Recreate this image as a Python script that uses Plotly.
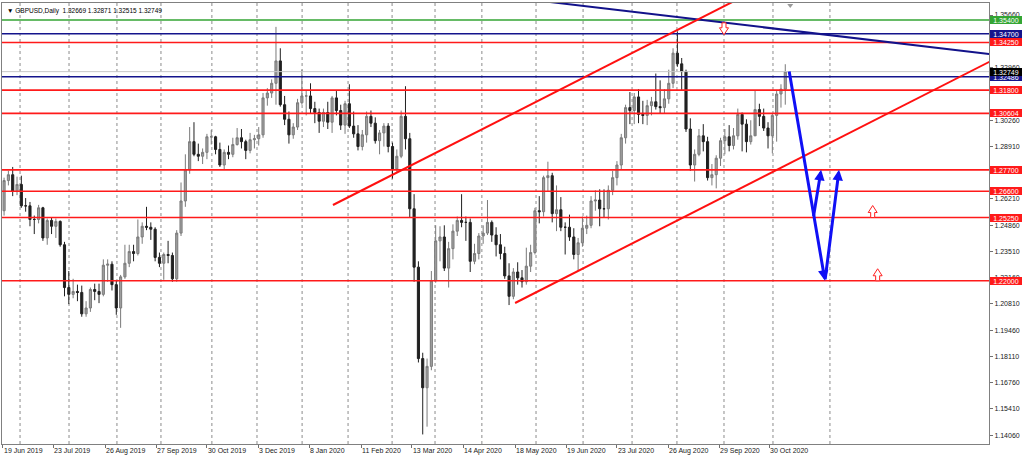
import plotly.graph_objects as go

# ---- candle data: 2-trading-day candles, GBPUSD daily (19 Jun 2019 .. 11 Nov 2020) ----
O = [1.2560, 1.2715, 1.2745, 1.2660, 1.2695, 1.2585, 1.2585, 1.2515, 1.2515, 1.2575,
     1.2420, 1.2510, 1.2480, 1.2505, 1.2385, 1.2165, 1.2130, 1.2145, 1.2140, 1.2030,
     1.2060, 1.2155, 1.2145, 1.2130, 1.2280, 1.2285, 1.2180, 1.2060, 1.2220, 1.2290,
     1.2350, 1.2340, 1.2425, 1.2480, 1.2475, 1.2465, 1.2320, 1.2290, 1.2335, 1.2330,
     1.2210, 1.2445, 1.2610, 1.2770, 1.2915, 1.2850, 1.2840, 1.2860, 1.2940, 1.2940,
     1.2875, 1.2795, 1.2860, 1.2850, 1.2900, 1.2935, 1.2915, 1.2870, 1.2925, 1.2930,
     1.2950, 1.3140, 1.3165, 1.3215, 1.3330, 1.3105, 1.3030, 1.2950, 1.2990, 1.3115,
     1.3150, 1.3150, 1.3085, 1.3065, 1.3020, 1.3065, 1.3015, 1.3140, 1.3075, 1.3000,
     1.3110, 1.2995, 1.2955, 1.2890, 1.2950, 1.3045, 1.3010, 1.2920, 1.2960, 1.2995,
     1.2890, 1.2775, 1.2840, 1.3045, 1.2930, 1.2570, 1.2270, 1.1800, 1.1650, 1.1760,
     1.2200, 1.2405, 1.2425, 1.2265, 1.2365, 1.2455, 1.2510, 1.2500, 1.2500, 1.2300,
     1.2340, 1.2430, 1.2445, 1.2500, 1.2435, 1.2385, 1.2340, 1.2225, 1.2120, 1.2245,
     1.2215, 1.2195, 1.2275, 1.2345, 1.2560, 1.2555, 1.2730, 1.2740, 1.2545, 1.2565,
     1.2475, 1.2475, 1.2425, 1.2335, 1.2395, 1.2470, 1.2485, 1.2610, 1.2615, 1.2570,
     1.2570, 1.2665, 1.2730, 1.2795, 1.2935, 1.3090, 1.3075, 1.3145, 1.3055, 1.3050,
     1.3100, 1.3120, 1.3095, 1.3090, 1.3135, 1.3215, 1.3370, 1.3315, 1.3275, 1.2980,
     1.2795, 1.2850, 1.2945, 1.2915, 1.2730, 1.2745, 1.2830, 1.2920, 1.2940, 1.2895,
     1.2945, 1.3055, 1.3005, 1.2915, 1.2945, 1.3080, 1.3045, 1.2985, 1.2945, 1.3050,
     1.3160, 1.3185]
H = [1.2730, 1.2765, 1.2785, 1.2735, 1.2740, 1.2625, 1.2605, 1.2535, 1.2590, 1.2580,
     1.2520, 1.2525, 1.2520, 1.2510, 1.2400, 1.2250, 1.2210, 1.2180, 1.2175, 1.2095,
     1.2165, 1.2185, 1.2185, 1.2310, 1.2310, 1.2300, 1.2200, 1.2230, 1.2385, 1.2385,
     1.2385, 1.2515, 1.2500, 1.2580, 1.2500, 1.2475, 1.2345, 1.2345, 1.2405, 1.2345,
     1.2460, 1.2705, 1.2850, 1.2990, 1.3015, 1.2905, 1.2880, 1.2955, 1.2975, 1.2945,
     1.2910, 1.2875, 1.2895, 1.2935, 1.2985, 1.2980, 1.2925, 1.2960, 1.2950, 1.2990,
     1.3165, 1.3190, 1.3235, 1.3505, 1.3395, 1.3150, 1.3070, 1.3010, 1.3135, 1.3285,
     1.3175, 1.3215, 1.3120, 1.3085, 1.3085, 1.3120, 1.3150, 1.3175, 1.3105, 1.3125,
     1.3210, 1.3070, 1.3000, 1.2975, 1.3070, 1.3075, 1.3040, 1.2975, 1.3010, 1.3010,
     1.2910, 1.2875, 1.3075, 1.3200, 1.2960, 1.2645, 1.2300, 1.1830, 1.1800, 1.2250,
     1.2485, 1.2480, 1.2485, 1.2400, 1.2490, 1.2530, 1.2645, 1.2530, 1.2520, 1.2390,
     1.2445, 1.2485, 1.2615, 1.2510, 1.2475, 1.2440, 1.2375, 1.2290, 1.2265, 1.2295,
     1.2255, 1.2370, 1.2385, 1.2575, 1.2635, 1.2740, 1.2812, 1.2755, 1.2690, 1.2630,
     1.2500, 1.2540, 1.2470, 1.2420, 1.2530, 1.2535, 1.2635, 1.2665, 1.2670, 1.2670,
     1.2690, 1.2765, 1.2815, 1.2955, 1.3105, 1.3170, 1.3165, 1.3185, 1.3125, 1.3130,
     1.3145, 1.3265, 1.3230, 1.3185, 1.3285, 1.3395, 1.3482, 1.3345, 1.3285, 1.3035,
     1.2875, 1.2980, 1.3005, 1.2940, 1.2800, 1.2845, 1.2935, 1.2980, 1.3000, 1.2985,
     1.3085, 1.3065, 1.3030, 1.3025, 1.3177, 1.3110, 1.3085, 1.3015, 1.3060, 1.3175,
     1.3210, 1.3313]
L = [1.2535, 1.2690, 1.2635, 1.2640, 1.2575, 1.2555, 1.2480, 1.2440, 1.2495, 1.2405,
     1.2385, 1.2440, 1.2420, 1.2375, 1.2120, 1.2080, 1.2110, 1.2095, 1.2015, 1.2015,
     1.2040, 1.2100, 1.2085, 1.2120, 1.2195, 1.2150, 1.2025, 1.1958, 1.2210, 1.2270,
     1.2300, 1.2330, 1.2390, 1.2460, 1.2410, 1.2300, 1.2270, 1.2205, 1.2290, 1.2195,
     1.2195, 1.2430, 1.2580, 1.2750, 1.2840, 1.2815, 1.2800, 1.2825, 1.2900, 1.2850,
     1.2785, 1.2770, 1.2825, 1.2835, 1.2895, 1.2880, 1.2825, 1.2855, 1.2880, 1.2895,
     1.2935, 1.3100, 1.3140, 1.3105, 1.3095, 1.3000, 1.2905, 1.2930, 1.2975, 1.3105,
     1.3050, 1.3060, 1.3010, 1.2960, 1.2990, 1.2980, 1.2960, 1.3050, 1.2975, 1.2955,
     1.2985, 1.2935, 1.2870, 1.2870, 1.2910, 1.2990, 1.2905, 1.2850, 1.2890, 1.2860,
     1.2725, 1.2760, 1.2830, 1.2875, 1.2525, 1.2195, 1.1780, 1.1410, 1.1450, 1.1740,
     1.2190, 1.2300, 1.2250, 1.2165, 1.2310, 1.2430, 1.2475, 1.2405, 1.2245, 1.2285,
     1.2310, 1.2390, 1.2435, 1.2400, 1.2325, 1.2310, 1.2210, 1.2075, 1.2105, 1.2180,
     1.2165, 1.2180, 1.2245, 1.2335, 1.2495, 1.2530, 1.2660, 1.2500, 1.2455, 1.2455,
     1.2335, 1.2405, 1.2310, 1.2250, 1.2375, 1.2440, 1.2470, 1.2560, 1.2480, 1.2525,
     1.2515, 1.2640, 1.2690, 1.2770, 1.2905, 1.3005, 1.3005, 1.3010, 1.3005, 1.3000,
     1.3050, 1.3080, 1.3060, 1.3060, 1.3110, 1.3190, 1.3300, 1.3180, 1.2965, 1.2765,
     1.2710, 1.2840, 1.2865, 1.2715, 1.2690, 1.2675, 1.2790, 1.2850, 1.2865, 1.2875,
     1.2925, 1.2865, 1.2860, 1.2900, 1.3035, 1.2995, 1.2970, 1.2880, 1.2855, 1.2915,
     1.3090, 1.3105]
C = [1.2715, 1.2745, 1.2660, 1.2695, 1.2585, 1.2585, 1.2515, 1.2515, 1.2575, 1.2420,
     1.2510, 1.2480, 1.2505, 1.2385, 1.2165, 1.2130, 1.2145, 1.2140, 1.2030, 1.2060,
     1.2155, 1.2145, 1.2130, 1.2280, 1.2285, 1.2180, 1.2060, 1.2220, 1.2290, 1.2350,
     1.2340, 1.2425, 1.2480, 1.2475, 1.2465, 1.2320, 1.2290, 1.2335, 1.2330, 1.2210,
     1.2445, 1.2610, 1.2770, 1.2915, 1.2850, 1.2840, 1.2860, 1.2940, 1.2940, 1.2875,
     1.2795, 1.2860, 1.2850, 1.2900, 1.2935, 1.2915, 1.2870, 1.2925, 1.2930, 1.2950,
     1.3140, 1.3165, 1.3215, 1.3330, 1.3105, 1.3030, 1.2950, 1.2990, 1.3115, 1.3150,
     1.3150, 1.3085, 1.3065, 1.3020, 1.3065, 1.3015, 1.3140, 1.3075, 1.3000, 1.3110,
     1.2995, 1.2955, 1.2890, 1.2950, 1.3045, 1.3010, 1.2920, 1.2960, 1.2995, 1.2890,
     1.2775, 1.2840, 1.3045, 1.2930, 1.2570, 1.2270, 1.1800, 1.1650, 1.1760, 1.2200,
     1.2405, 1.2425, 1.2265, 1.2365, 1.2455, 1.2510, 1.2500, 1.2500, 1.2300, 1.2340,
     1.2430, 1.2445, 1.2500, 1.2435, 1.2385, 1.2340, 1.2225, 1.2120, 1.2245, 1.2215,
     1.2195, 1.2275, 1.2345, 1.2560, 1.2555, 1.2730, 1.2740, 1.2545, 1.2565, 1.2475,
     1.2475, 1.2425, 1.2335, 1.2395, 1.2470, 1.2485, 1.2610, 1.2615, 1.2570, 1.2570,
     1.2665, 1.2730, 1.2795, 1.2935, 1.3090, 1.3075, 1.3145, 1.3055, 1.3050, 1.3100,
     1.3120, 1.3095, 1.3090, 1.3135, 1.3215, 1.3370, 1.3315, 1.3275, 1.2980, 1.2795,
     1.2850, 1.2945, 1.2915, 1.2730, 1.2745, 1.2830, 1.2920, 1.2940, 1.2895, 1.2945,
     1.3055, 1.3005, 1.2915, 1.2945, 1.3080, 1.3045, 1.2985, 1.2945, 1.3050, 1.3160,
     1.3185, 1.32749]
# trading-day index (19 Jun 2019 = 0) of the first day of each candle
BAR_DAY = list(range(0, 2 * len(C), 2))

# ---- axes ----
X_TICK_POS = [0, 23.2, 47.3, 70.9, 94.5, 118.2, 141.8, 165.9, 189.5, 213.2,
              237.3, 260.9, 284.5, 308.2, 331.8, 355]
X_TICK_TEXT = ["19 Jun 2019", "23 Jul 2019", "26 Aug 2019", "27 Sep 2019", "30 Oct 2019",
               "3 Dec 2019", "8 Jan 2020", "11 Feb 2020", "13 Mar 2020", "14 Apr 2020",
               "18 May 2020", "19 Jun 2020", "23 Jul 2020", "26 Aug 2020", "29 Sep 2020",
               "30 Oct 2020"]
MONTH_GRID = [7.9, 30.6, 52.8, 73.2, 96.8, 117.7, 138.6, 159.9, 180.3, 200.2, 221.9,
              247.0, 268.8, 291.5, 312.3, 334.1, 356.8, 383.2]
Y_TICKS = [1.14060, 1.15410, 1.16760, 1.18110, 1.19460, 1.20810, 1.22160, 1.23510,
           1.24860, 1.26210, 1.27560, 1.28910, 1.30260, 1.31610, 1.32960, 1.34310, 1.35660]
# tick labels that sit completely under a price tag in the reference
Y_TICKS_HIDDEN = [1.27560, 1.31610, 1.34310]
X_RANGE = [-0.46, 456.9]
Y_RANGE = [1.13609, 1.36277]

# ---- horizontal levels ----
LEVEL_PRICE = [1.35400, 1.34700, 1.34250, 1.32486, 1.31800, 1.30604, 1.27700, 1.26600, 1.25250, 1.22000]
LEVEL_COLOR = ["#33a533", "#14148c", "#ff1a1a", "#14148c", "#ff1a1a", "#ff1a1a",
               "#ff1a1a", "#ff1a1a", "#ff1a1a", "#ff1a1a"]
LAST_PRICE = 1.32749

# ---- trend lines ----
TREND_X0 = [250.0, 152.9, 237.3]
TREND_P0 = [1.36374, 1.25894, 1.20857]
TREND_X1 = [460.0, 340.0, 460.0]
TREND_P1 = [1.33614, 1.36443, 1.33419]
TREND_COLOR = ["#12128a", "#ff1010", "#ff1010"]

# ---- projected path (blue arrows): tail -> head ----
ARROW_TAIL_X = [364.2, 380.9, 375.5]
ARROW_TAIL_P = [1.3283, 1.2200, 1.2525]
ARROW_HEAD_X = [380.9, 387.4, 379.1]
ARROW_HEAD_P = [1.2200, 1.2770, 1.2770]

# ---- red hollow signal arrows ----
SIG_X = [334.1, 403.0, 405.3]
SIG_P = [1.3526, 1.2525, 1.2200]
SIG_DIR = ["down", "up", "up"]

FONT = "Liberation Sans"

fig = go.Figure()
fig.add_trace(go.Candlestick(
    x=[d + 0.5 for d in BAR_DAY], open=O, high=H, low=L, close=C,
    increasing=dict(line=dict(color="#7a7a7a", width=1), fillcolor="#a0a0a0"),
    decreasing=dict(line=dict(color="#202020", width=1), fillcolor="#202020"),
    whiskerwidth=0, showlegend=False, hoverinfo="skip"))

shapes = []
for g in MONTH_GRID:
    shapes.append(dict(type="line", xref="x", yref="paper", x0=g, x1=g, y0=0, y1=1,
                       layer="below", line=dict(color="#8c8c8c", width=1, dash="dot")))
shapes.append(dict(type="line", xref="paper", yref="y", x0=0, x1=1, y0=LAST_PRICE, y1=LAST_PRICE,
                   line=dict(color="#c8c8c8", width=1)))
for p, col in zip(LEVEL_PRICE, LEVEL_COLOR):
    shapes.append(dict(type="line", xref="paper", yref="y", x0=0, x1=1, y0=p, y1=p,
                       line=dict(color=col, width=1.6)))
for x0, p0, x1, p1, col in zip(TREND_X0, TREND_P0, TREND_X1, TREND_P1, TREND_COLOR):
    shapes.append(dict(type="line", xref="x", yref="y", x0=x0, y0=p0, x1=x1, y1=p1,
                       line=dict(color=col, width=2)))
UP_PATH = "M -2,0 L 2,0 L 2,5 L 4.5,5 L 0,12 L -4.5,5 L -2,5 Z"
DOWN_PATH = "M -2,0 L 2,0 L 2,-5 L 4.5,-5 L 0,-12 L -4.5,-5 L -2,-5 Z"
for sx, sp, sd in zip(SIG_X, SIG_P, SIG_DIR):
    shapes.append(dict(type="path", xref="x", yref="y", xsizemode="pixel", ysizemode="pixel",
                       xanchor=sx, yanchor=sp, path=UP_PATH if sd == "up" else DOWN_PATH,
                       fillcolor="white", line=dict(color="#ff2020", width=1)))
# chart-shift marker
shapes.append(dict(type="path", xref="x", yref="paper", xsizemode="pixel", ysizemode="pixel",
                   xanchor=364.8, yanchor=1, path="M -3,-1 L 3,-1 L 0,-5 Z",
                   fillcolor="#9a9a9a", line=dict(width=0)))

annotations = []
for tx, tp, hx, hp in zip(ARROW_TAIL_X, ARROW_TAIL_P, ARROW_HEAD_X, ARROW_HEAD_P):
    annotations.append(dict(x=hx, y=hp, ax=tx, ay=tp, xref="x", yref="y", axref="x", ayref="y",
                            text="", showarrow=True, arrowhead=2, arrowsize=0.7, arrowwidth=3,
                            arrowcolor="#1010f5", standoff=0))
tag_price = LEVEL_PRICE + [LAST_PRICE]
tag_color = LEVEL_COLOR + ["#000000"]
for p, col in zip(tag_price, tag_color):
    annotations.append(dict(x=1, xref="paper", xanchor="left", xshift=1, y=p, yref="y",
                            yanchor="middle", text=f"{p:.5f}", showarrow=False, bgcolor=col,
                            font=dict(color="white", size=7, family=FONT),
                            width=32, height=8, borderpad=0, borderwidth=0))
annotations.append(dict(x=0, xref="paper", xanchor="left", xshift=3, y=1, yref="paper",
                        yanchor="top", yshift=-2, showarrow=False,
                        text="▼ GBPUSD,Daily  1.32669 1.32871 1.32515 1.32749",
                        font=dict(color="#000000", size=6.5, family=FONT)))

fig.update_layout(
    width=1024, height=456,
    margin=dict(l=2, r=35, t=3, b=12),
    paper_bgcolor="white", plot_bgcolor="white",
    showlegend=False,
    shapes=shapes, annotations=annotations,
    xaxis=dict(range=X_RANGE, tickmode="array", tickvals=X_TICK_POS, ticktext=X_TICK_TEXT,
               ticks="outside", ticklen=3, tickcolor="#707070", showgrid=False, zeroline=False,
               showline=True, mirror=True, linecolor="#808080", linewidth=1,
               ticklabelposition="outside right", rangeslider=dict(visible=False),
               tickfont=dict(size=7, family=FONT, color="#202020")),
    yaxis=dict(range=Y_RANGE, side="right", tickmode="array", tickvals=Y_TICKS,
               ticktext=["" if v in Y_TICKS_HIDDEN else f"{v:.5f}" for v in Y_TICKS],
               ticks="outside", ticklen=3, tickcolor="#707070", showgrid=False, zeroline=False,
               showline=True, mirror=True, linecolor="#808080", linewidth=1,
               tickfont=dict(size=7, family=FONT, color="#202020")),
)

fig.write_html("out.html", config={"displayModeBar": False},
               post_script="document.body.style.margin='0px';")
